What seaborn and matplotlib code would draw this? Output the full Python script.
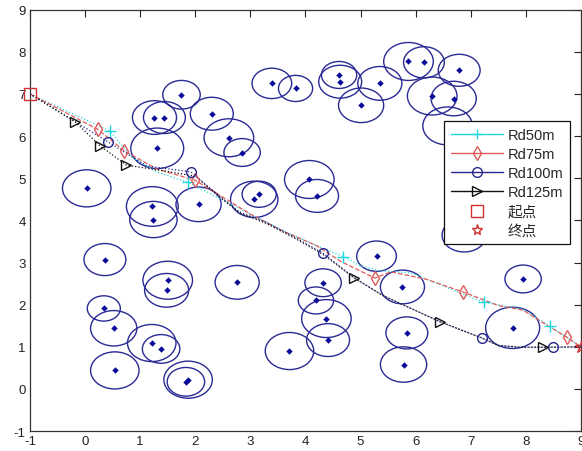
import matplotlib
matplotlib.use('Agg')
import matplotlib.pyplot as plt
from matplotlib.patches import Circle
from matplotlib.lines import Line2D
import seaborn as sns
import numpy as np

# obstacles: centre x, centre y, radius
obs_x = [0.03, 1.75, 1.26, 1.44, 1.31, 2.30, 2.61, 2.85, 1.22, 1.24, 2.06, 3.07, 3.16,
         3.39, 3.82, 4.61, 4.63, 5.35, 5.01, 5.87, 6.15, 6.79, 6.30, 6.69, 6.58, 6.88,
         4.07, 4.21, 0.36, 1.50, 1.48, 2.76, 0.34, 0.52, 1.21, 1.38, 0.54, 1.87, 1.83,
         3.71, 5.29, 4.32, 4.19, 4.38, 4.41, 5.76, 5.84, 5.78, 7.95, 7.76]
obs_y = [4.76, 6.98, 6.44, 6.44, 5.71, 6.53, 5.96, 5.61, 4.33, 4.02, 4.38, 4.50, 4.62,
         7.25, 7.13, 7.45, 7.29, 7.25, 6.73, 7.77, 7.75, 7.56, 6.95, 6.89, 6.24, 3.65,
         4.97, 4.58, 3.07, 2.58, 2.34, 2.53, 1.91, 1.44, 1.09, 0.95, 0.44, 0.22, 0.17,
         0.90, 3.15, 2.52, 2.10, 1.67, 1.16, 2.42, 1.33, 0.58, 2.61, 1.45]
obs_r = [0.44, 0.34, 0.40, 0.38, 0.48, 0.39, 0.45, 0.33, 0.47, 0.43, 0.41, 0.43, 0.31,
         0.36, 0.31, 0.32, 0.39, 0.40, 0.41, 0.45, 0.37, 0.38, 0.45, 0.41, 0.45, 0.40,
         0.45, 0.39, 0.38, 0.45, 0.40, 0.40, 0.30, 0.42, 0.44, 0.34, 0.44, 0.44, 0.34,
         0.44, 0.36, 0.33, 0.32, 0.45, 0.39, 0.40, 0.38, 0.42, 0.33, 0.49]

start = (-1, 7)
goal = (9, 1)

# planned paths (vertices) and which vertices carry a marker
rd50_x = [-1, 0.45, 0.85, 1.30, 1.87, 2.40, 3.00, 3.54, 4.20, 4.69, 5.00, 5.35, 5.90, 6.44, 6.80, 7.24, 7.95, 8.43, 9]
rd50_y = [7, 6.12, 5.50, 5.15, 4.90, 4.55, 4.15, 3.79, 3.40, 3.14, 2.92, 2.80, 2.76, 2.48, 2.28, 2.06, 1.89, 1.49, 1]
rd50_mk = [1, 4, 9, 15, 17]

rd75_x = [-1, 0.23, 0.71, 1.30, 2.00, 2.50, 3.00, 3.50, 4.20, 4.65, 5.26, 5.55, 6.20, 6.86, 7.50, 7.95, 8.30, 8.74, 9]
rd75_y = [7, 6.16, 5.65, 5.22, 4.95, 4.55, 4.15, 3.80, 3.40, 3.02, 2.63, 2.78, 2.60, 2.30, 1.98, 1.87, 1.58, 1.23, 1]
rd75_mk = [1, 2, 4, 10, 13, 17]

rd100_x = [-1, 0.42, 1.12, 1.92, 2.40, 2.80, 3.30, 3.80, 4.31, 4.88, 5.40, 6.45, 7.20, 7.50, 7.90, 8.49, 9]
rd100_y = [7, 5.86, 5.29, 5.15, 4.62, 4.20, 3.95, 3.60, 3.23, 2.64, 2.22, 1.59, 1.21, 1.03, 0.99, 0.99, 1]
rd100_mk = [1, 3, 8, 12, 15]

rd125_x = [-1, -0.18, 0.27, 0.75, 1.40, 2.00, 2.40, 2.80, 3.30, 3.80, 4.31, 4.88, 5.40, 6.45, 7.20, 7.50, 7.90, 8.32, 9]
rd125_y = [7, 6.34, 5.77, 5.31, 5.18, 5.05, 4.60, 4.18, 3.92, 3.58, 3.20, 2.64, 2.22, 1.59, 1.21, 1.03, 0.99, 0.99, 1]
rd125_mk = [1, 2, 3, 11, 13, 17]

series = [
    ('Rd50m', rd50_x, rd50_y, rd50_mk, '#22d8e0', '+', ':'),
    ('Rd75m', rd75_x, rd75_y, rd75_mk, '#e05a5a', 'd', '--'),
    ('Rd100m', rd100_x, rd100_y, rd100_mk, '#26268c', 'o', ':'),
    ('Rd125m', rd125_x, rd125_y, rd125_mk, '#111111', '>', ':'),
]

navy = '#2a2a94'

sns.set_style('white')
plt.rcParams['font.family'] = ['Liberation Sans', 'Noto Sans CJK SC']
plt.rcParams['axes.unicode_minus'] = False

fig = plt.figure(figsize=(5.82, 4.52), dpi=100)
ax = fig.add_axes([0.0515, 0.044, 0.9467, 0.9325])

for cx, cy, r in zip(obs_x, obs_y, obs_r):
    ax.add_patch(Circle((cx, cy), r, fill=False, ec=navy, lw=1.0, zorder=2))
sns.scatterplot(x=obs_x, y=obs_y, marker='D', s=9, color='#0a0a9a',
                edgecolor='#0a0a9a', ax=ax, zorder=3, legend=False)

handles = []
for name, xs, ys, mk, col, m, ls in series:
    sns.lineplot(x=xs, y=ys, sort=False, estimator=None, color=col,
                 linestyle=ls, lw=0.9, ax=ax, zorder=4)
    xs = np.array(xs)
    ys = np.array(ys)
    ax.plot(xs[mk], ys[mk], ls='none', marker=m, ms=7 if m != '+' else 8,
            mfc='none', mec=col, mew=1.0, zorder=5, clip_on=False)
    handles.append(Line2D([], [], color=col, lw=1.0, marker=m, ms=7,
                          mfc='none', mec=col, label=name))

ax.plot(*start, ls='none', marker='s', ms=8, mfc='none', mec='#d03030', mew=1.0,
        zorder=6, clip_on=False)
ax.plot(*goal, ls='none', marker='*', ms=9, mfc='none', mec='#d03030', mew=1.0,
        zorder=6, clip_on=False)
handles.append(Line2D([], [], ls='none', marker='s', ms=8, mfc='none',
                      mec='#d03030', label='起点'))
handles.append(Line2D([], [], ls='none', marker='*', ms=8, mfc='none',
                      mec='#d03030', label='终点'))

ax.set_xlim(-1, 9)
ax.set_ylim(-1, 9)
ax.set_xticks(range(-1, 10))
ax.set_yticks(range(-1, 10))
ax.tick_params(direction='in', top=True, right=True, length=5, width=0.8,
               labelsize=9.5, colors='#222222', pad=3)
for sp in ax.spines.values():
    sp.set_color('#333333')
    sp.set_linewidth(0.9)

leg = ax.legend(handles=handles, loc='upper right', bbox_to_anchor=(0.98, 0.7355),
                borderaxespad=0, fontsize=10.5, handlelength=3.6, labelspacing=0.36,
                handletextpad=0.3, fancybox=False, framealpha=1, edgecolor='#111111',
                borderpad=0.45)
leg.set_zorder(10)
leg.get_frame().set_linewidth(0.9)

fig.savefig('out.png', dpi=100)
